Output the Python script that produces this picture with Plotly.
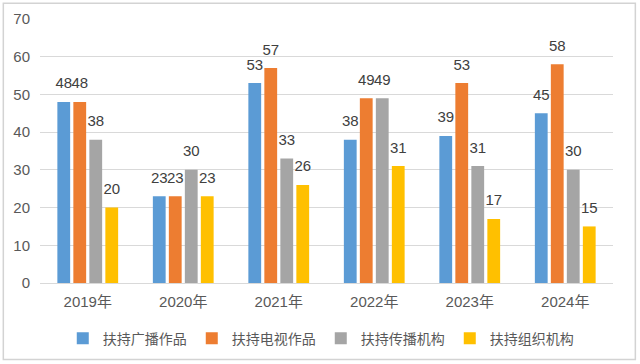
import plotly.graph_objects as go

years = ["2019年", "2020年", "2021年", "2022年", "2023年", "2024年"]
series_names = ["扶持广播作品", "扶持电视作品", "扶持传播机构", "扶持组织机构"]
radio_works = [48, 23, 53, 38, 39, 45]
tv_works = [48, 23, 57, 49, 53, 58]
media_orgs = [38, 30, 33, 49, 31, 30]
org_support = [20, 23, 26, 31, 17, 15]
y_ticks = [0, 10, 20, 30, 40, 50, 60, 70]

colors = ["#5B9BD5", "#ED7D31", "#A5A5A5", "#FFC000"]
values = [radio_works, tv_works, media_orgs, org_support]
groups = ["g1", "g2", "g3", "g4"]

FONT = "Liberation Sans, Arial, Noto Sans CJK SC, sans-serif"
BARGAP = 0.33

fig = go.Figure()
for name, vals, col, g in zip(series_names, values, colors, groups):
    fig.add_trace(go.Bar(
        x=years, y=vals, name=name, offsetgroup=g,
        marker=dict(color=col, line=dict(width=0)),
    ))
for name, vals, g in zip(series_names, values, groups):
    fig.add_trace(go.Scatter(
        x=years, y=vals, mode="markers+text", offsetgroup=g, showlegend=False,
        text=[str(v) for v in vals], textposition="top center",
        marker=dict(size=14, opacity=0),
        textfont=dict(family=FONT, size=15, color="#404040"),
        cliponaxis=False, hoverinfo="skip",
    ))

fig.update_layout(
    width=640, height=364,
    margin=dict(l=40, r=27, t=19, b=81, autoexpand=False),
    paper_bgcolor="white", plot_bgcolor="white",
    barmode="group", bargap=BARGAP, bargroupgap=0.2,
    scattermode="group", scattergap=BARGAP,
    font=dict(family=FONT, color="#595959", size=14),
    showlegend=True,
    legend=dict(orientation="h", x=0.49, xanchor="center", y=-0.15, yanchor="top",
                font=dict(family="Noto Sans CJK SC, sans-serif", size=14, color="#595959"),
                itemwidth=30, traceorder="normal"),
    xaxis=dict(showline=True, linecolor="#D9D9D9", linewidth=1, ticks="",
               ticklabelstandoff=5,
               tickfont=dict(size=15, color="#595959", family="Liberation Sans, Noto Sans CJK SC, sans-serif")),
    yaxis=dict(range=[0, 70], tickvals=y_ticks, showgrid=True, gridcolor="#D9D9D9",
               zeroline=False, showline=False, ticks="", ticklabelstandoff=9,
               tickfont=dict(size=15, color="#595959")),
    shapes=[dict(type="rect", xref="paper", yref="paper",
                 x0=-0.064, x1=1.039, y0=-0.29, y1=1.06,
                 line=dict(color="#D3D3D3", width=1.5), layer="below")],
)

fig.write_html("out.html", config={"displayModeBar": False},
               post_script="document.body.style.margin='0';document.body.style.padding='0';")
